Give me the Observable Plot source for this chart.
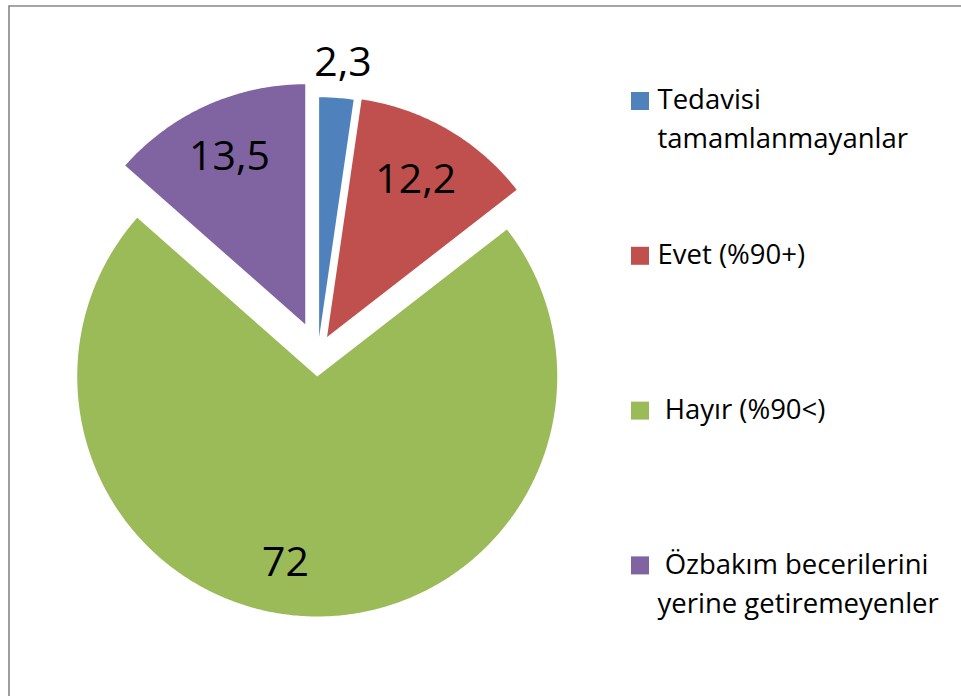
<!DOCTYPE html>
<html><head><meta charset="utf-8">
<script src="https://cdn.jsdelivr.net/npm/d3@7"></script>
<script src="https://cdn.jsdelivr.net/npm/@observablehq/plot@0.6"></script>
<style>body{margin:0;background:#fff}</style>
</head><body><div id="chart"></div>
<script>
// ---- data ----
const categories = ["Tedavisi tamamlanmayanlar", "Evet (%90+)", "Hayır (%90<)", "Özbakım becerilerini yerine getiremeyenler"];
const legendLabels = ["Tedavisi\ntamamlanmayanlar", "Evet (%90+)", "\u00a0Hayır (%90<)", "\u00a0Özbakım becerilerini\nyerine getiremeyenler"];
const values = [2.3, 12.2, 72, 13.5];
const valueLabels = ["2,3", "12,2", "72", "13,5"];

// ---- styles / layout ----
const colors = ["#4F81BD", "#C0504D", "#9BBB59", "#8064A2"];
const W = 961, H = 696;
const cx = 317.5, cy = 352, R = 240;
const explode = [15.3, 18, 24, 31];
const labelDist = [275, 182, 186, 184];
const labelShift = [4, -3, -26, 0];
const legendX = 631, legendSize = 18, legendTextX = 657, legendTop = 101, legendStep = 154.8;
const FONT = "'Open Sans', sans-serif";

const arcs = d3.pie().sort(null).value(d => d)(values);
const slices = [];
const labels = [];
arcs.forEach((p, i) => {
  const mid = (p.startAngle + p.endAngle) / 2;
  const ox = cx + explode[i] * Math.sin(mid), oy = cy - explode[i] * Math.cos(mid);
  slices.push({name: categories[i], x: ox, y: oy});
  const n = Math.max(2, Math.ceil((p.endAngle - p.startAngle) / 0.01));
  for (let k = 0; k <= n; k++) {
    const a = p.startAngle + (p.endAngle - p.startAngle) * k / n;
    slices.push({name: categories[i], x: ox + R * Math.sin(a), y: oy - R * Math.cos(a)});
  }
  labels.push({
    text: valueLabels[i],
    x: ox + labelDist[i] * Math.sin(mid) + labelShift[i],
    y: oy - labelDist[i] * Math.cos(mid)
  });
});
const legendItems = categories.map((c, i) => ({name: c, label: legendLabels[i], y: legendTop + i * legendStep}));

const chart = Plot.plot({
  width: W, height: H, margin: 0,
  x: {domain: [0, W], range: [0, W], axis: null},
  y: {domain: [0, H], range: [0, H], axis: null},
  color: {domain: categories, range: colors},
  style: {fontFamily: FONT, background: "white", color: "black"},
  marks: [
    Plot.ruleX([8.5], {y1: 5.5, y2: H, stroke: "#878787", strokeWidth: 1.6}),
    Plot.ruleY([5.5], {x1: 8.5, x2: W, stroke: "#878787", strokeWidth: 1.6}),
    Plot.line(slices, {x: "x", y: "y", z: "name", fill: "name", stroke: "none"}),
    Plot.text(labels, {x: "x", y: "y", text: "text", fontSize: 41, fill: "black", lineAnchor: "middle"}),
    Plot.rect(legendItems, {x1: d => legendX, x2: d => legendX + legendSize, y1: d => d.y - legendSize / 2, y2: d => d.y + legendSize / 2, fill: "name"}),
    Plot.text(legendItems, {x: d => legendTextX, y: "y", text: "label", textAnchor: "start", lineAnchor: "top", dy: -20, fontSize: 27.5, lineHeight: 1.42, fill: "black"})
  ]
});
document.getElementById("chart").append(chart);
</script>
</body></html>
